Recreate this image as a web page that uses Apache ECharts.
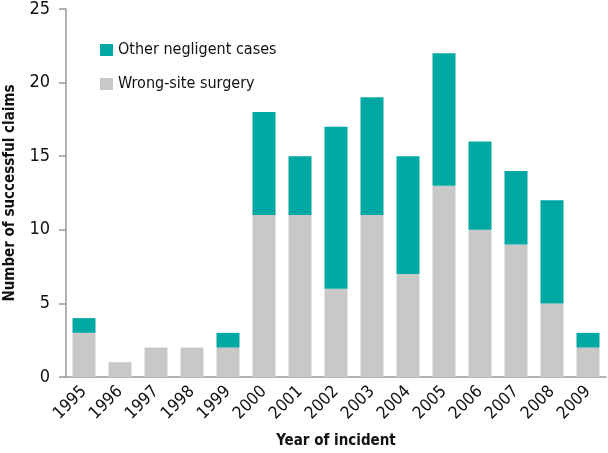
<!DOCTYPE html>
<html><head><meta charset="utf-8">
<script src="https://cdn.jsdelivr.net/npm/echarts@6/dist/echarts.min.js"></script>
<style>html,body{margin:0;padding:0;background:#fff}#c{width:608px;height:453px}</style>
</head><body><div id="c"></div>
<script>
const years = ['1995','1996','1997','1998','1999','2000','2001','2002','2003','2004','2005','2006','2007','2008','2009'];
const wrongSite = [3,1,2,2,2,11,11,6,11,7,13,10,9,5,2];
const otherNegligent = [1,0,0,0,1,7,4,11,8,8,9,6,5,7,1];
const yTicks = [0,5,10,15,20,25];

const FONT = "'Liberation Sans Narrow','DejaVu Sans Condensed','Arial Narrow',sans-serif";
const chart = echarts.init(document.getElementById('c'));
chart.setOption({
  animation: false,
  textStyle: {fontFamily: FONT},
  grid: {left: 66, right: 2, top: 9, bottom: 76, containLabel: false, outerBoundsMode: 'none'},
  legend: {
    left: 95, top: 37, orient: 'vertical', itemGap: 18,
    itemWidth: 13, itemHeight: 12, icon: 'rect',
    textStyle: {fontFamily: FONT, fontSize: 16, color: '#111'},
    data: ['Other negligent cases','Wrong-site surgery']
  },
  xAxis: {
    type: 'category', data: years,
    name: 'Year of incident', nameLocation: 'middle', nameGap: 57,
    nameTextStyle: {fontFamily: FONT, fontSize: 15, fontWeight: 'bold', color: '#111'},
    axisLine: {lineStyle: {color: '#999', width: 1.5}},
    axisTick: {show: false},
    axisLabel: {rotate: 45, fontSize: 17, color: '#111', margin: 12, interval: 0}
  },
  yAxis: {
    type: 'value', min: yTicks[0], max: yTicks[yTicks.length-1], interval: 5,
    name: 'Number of successful claims', nameLocation: 'middle', nameGap: 48,
    nameTextStyle: {fontFamily: FONT, fontSize: 15, fontWeight: 'bold', color: '#111'},
    axisLine: {show: true, lineStyle: {color: '#999', width: 1.5}},
    axisTick: {show: true, length: 7, lineStyle: {color: '#999', width: 1.5}},
    axisLabel: {fontSize: 18, color: '#111', margin: 16},
    splitLine: {show: false}
  },
  series: [
    {name: 'Wrong-site surgery', type: 'bar', stack: 't', data: wrongSite, barWidth: 23,
     itemStyle: {color: '#C8C8C8'}},
    {name: 'Other negligent cases', type: 'bar', stack: 't', data: otherNegligent, barWidth: 23,
     itemStyle: {color: '#00A8A3'}}
  ]
});
</script></body></html>
